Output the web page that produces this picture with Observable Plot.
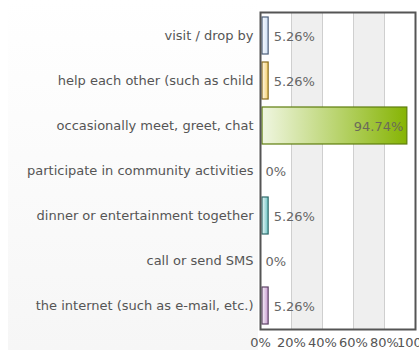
<!DOCTYPE html>
<html>
<head>
<meta charset="utf-8">
<script src="https://cdn.jsdelivr.net/npm/d3@7"></script>
<script src="https://cdn.jsdelivr.net/npm/@observablehq/plot@0.6"></script>
<style>
  html, body { margin: 0; padding: 0; background: #fff; }
  #chart { width: 419px; height: 350px; overflow: hidden; }
</style>
</head>
<body>
<div id="chart"></div>
<script>
const categories = [
  "visit / drop by",
  "help each other (such as child",
  "occasionally meet, greet, chat",
  "participate in community activities",
  "dinner or entertainment together",
  "call or send SMS",
  "the internet (such as e-mail, etc.)"
];
const values = [5.26, 5.26, 94.74, 0, 5.26, 0, 5.26];
const barColors = ["#cfe0f5", "#f5cf6a", "#86b404", "#6cc4c4", "#6cc4c4", "#cccccc", "#c79ad0"];
const barStrokes = ["#4d5f7a", "#8a6d1e", "#5e7d0c", "#2f6b6b", "#2f6b6b", "#888888", "#5e4466"];
const xTicks = [0, 20, 40, 60, 80, 100];
const stripes = [[20, 40], [60, 80]];

const data = categories.map((c, i) => ({
  cat: c, value: values[i],
  grad: `url(#grad${i})`, edge: barStrokes[i]
}));

const chart = Plot.plot({
  width: 419,
  height: 350,
  marginLeft: 260,
  marginRight: 4,
  marginTop: 12,
  marginBottom: 21,
  style: { fontFamily: "'DejaVu Sans', Verdana, sans-serif", fontSize: "13px", background: "transparent", color: "#555" },
  x: { domain: [0, 100], ticks: xTicks, tickFormat: d => d + "%", tickSize: 0, tickPadding: 8, label: null },
  y: { domain: categories, paddingInner: 0.17, paddingOuter: 0.1, align: 0.5, tickSize: 0, tickPadding: 7, label: null },
  color: { type: "identity" },
  marks: [
    Plot.rect(stripes, { x1: d => d[0], x2: d => d[1], fill: "#efefef" }),
    Plot.ruleX(xTicks.slice(1, -1), { stroke: "#cfcfcf", strokeWidth: 1 }),
    Plot.barX(data.filter(d => d.value > 0), {
      x: "value", y: "cat", fill: "grad", stroke: "edge", strokeWidth: 1.2, insetLeft: 2
    }),
    Plot.text(data.filter(d => d.value < 50), {
      x: "value", y: "cat", text: d => d.value + "%", textAnchor: "start", dx: 5, dy: 1, fill: "#666"
    }),
    Plot.text(data.filter(d => d.value >= 50), {
      x: "value", y: "cat", text: d => d.value + "%", textAnchor: "end", dx: -4, dy: 1, fill: "#6b6b5a"
    }),
    Plot.frame({ stroke: "#555", strokeWidth: 2 })
  ]
});

const svg = d3.select(chart);
const defs = svg.insert("defs", ":first-child");
barColors.forEach((c, i) => {
  const g = defs.append("linearGradient").attr("id", `grad${i}`)
    .attr("x1", "0%").attr("x2", "100%").attr("y1", "0%").attr("y2", "0%");
  g.append("stop").attr("offset", "0%").attr("stop-color", d3.interpolateRgb("#ffffff", c)(0.12));
  g.append("stop").attr("offset", "100%").attr("stop-color", c);
});
const pg = defs.append("linearGradient").attr("id", "panel")
  .attr("x1", "0").attr("x2", "0").attr("y1", "0").attr("y2", "1");
pg.append("stop").attr("offset", "0%").attr("stop-color", "#ffffff");
pg.append("stop").attr("offset", "100%").attr("stop-color", "#f6f6f6");
svg.insert("rect", "defs + *")
  .attr("x", 8).attr("y", 0).attr("width", 250).attr("height", 350)
  .attr("fill", "url(#panel)");

document.getElementById("chart").appendChild(chart);
</script>
</body>
</html>
